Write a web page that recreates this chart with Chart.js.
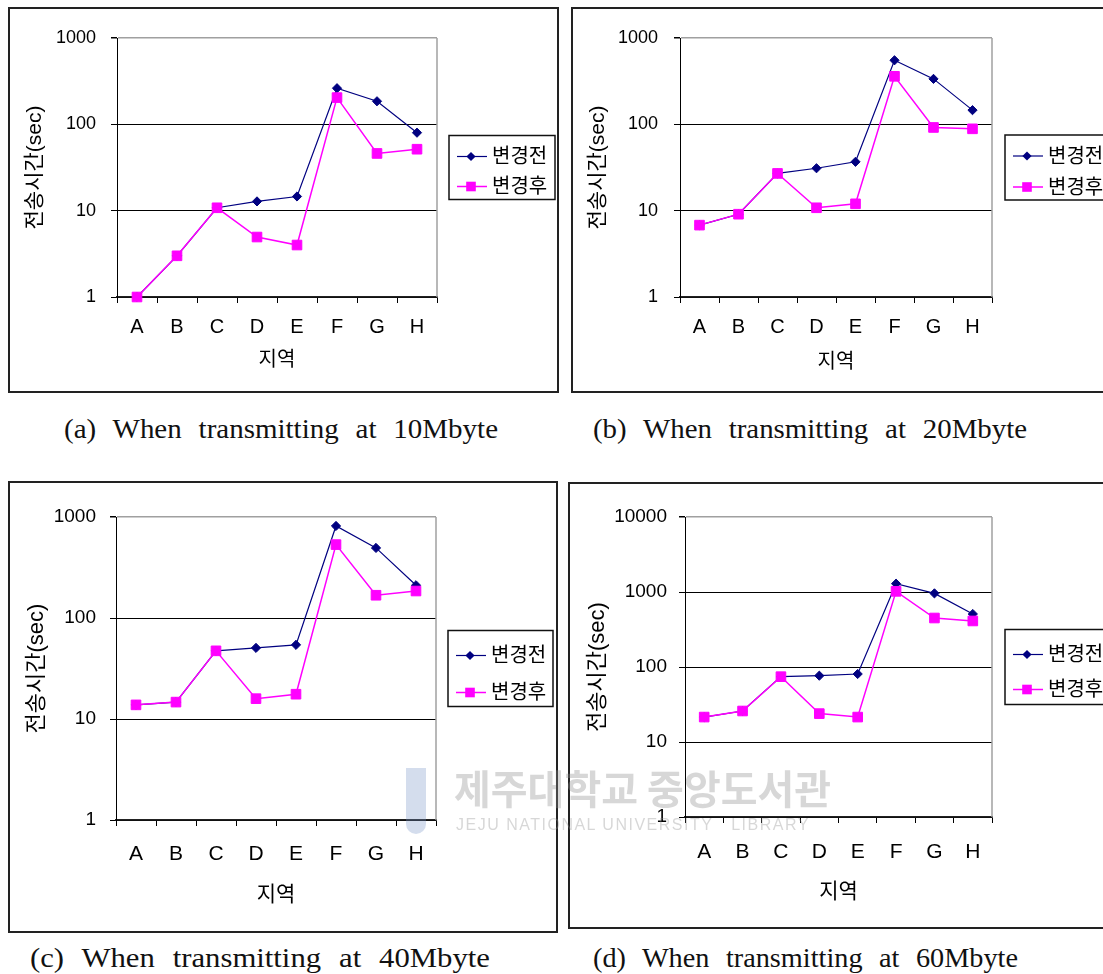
<!DOCTYPE html>
<html>
<head>
<meta charset="utf-8">
<title>지역별 전송시간</title>
<script src="https://cdn.jsdelivr.net/npm/chart.js"></script>
<style>
  html, body { margin: 0; padding: 0; background: #fff; width: 1103px; height: 974px; overflow: hidden; }
  .frame { position: absolute; border: 2px solid #222; box-sizing: border-box; background: #fff; }
  .frame canvas { position: absolute; left: 0; top: 0; }
  .caption { position: absolute; font-family: 'Liberation Serif', serif; font-size: 27px; letter-spacing: 0; word-spacing: 9px;
             white-space: nowrap; transform-origin: left center; color: #111; line-height: 1; }
  .wm { position: absolute; pointer-events: none; white-space: nowrap; color: rgba(140,140,140,0.35); }
</style>
</head>
<body>

<div class="frame" style="left:8px; top:7px; width:551px; height:386px;"><canvas id="chartA" width="547" height="382"></canvas></div>
<div class="frame" style="left:571px; top:7px; width:560px; height:386px;"><canvas id="chartB" width="556" height="382"></canvas></div>
<div class="frame" style="left:8px; top:481px; width:550px; height:452px;"><canvas id="chartC" width="546" height="448"></canvas></div>
<div class="frame" style="left:568px; top:482px; width:560px; height:447px;"><canvas id="chartD" width="556" height="443"></canvas></div>

<div class="caption" id="capA" style="left:64px; top:416px;"></div>
<div class="caption" id="capB" style="left:593px; top:416px;"></div>
<div class="caption" id="capC" style="left:30px; top:945px;"></div>
<div class="caption" id="capD" style="left:593px; top:945px;"></div>

<!-- 워터마크 -->
<div class="wm" style="left:406px; top:768px; width:20px; height:66px; background:rgba(120,150,200,0.32); border-radius:0 0 12px 12px;"></div>
<div class="wm" style="left:454px; top:758px; font-family:'Noto Sans CJK KR', sans-serif; font-weight:700; font-size:40px; letter-spacing:0px;">제주대학교 중앙도서관</div>
<div class="wm" style="left:456px; top:816px; font-family:'Liberation Sans', sans-serif; font-size:16px; letter-spacing:1.5px;">JEJU NATIONAL UNIVERSITY&nbsp;&nbsp;&nbsp;LIBRARY</div>

<script>
  // 데이터
  const regions = ['A', 'B', 'C', 'D', 'E', 'F', 'G', 'H'];
  const seriesNames = ['변경전', '변경후'];

  const before10 = [1, 3, 10.8, 12.8, 14.6, 262, 185, 80];
  const after10  = [1, 3, 10.8, 4.95, 4.0, 204, 46, 51.5];

  const before20 = [6.8, 9.1, 27, 31, 36.8, 552, 336, 146];
  const after20  = [6.8, 9.1, 27, 10.8, 12, 360, 92, 88.7];

  const before40 = [13.8, 14.7, 47.3, 50.6, 54.2, 815, 494, 211];
  const after40  = [13.8, 14.7, 47.3, 15.9, 17.6, 533, 168, 185];

  const before60 = [21.5, 25.9, 74.3, 76.6, 80.7, 1291, 959, 509];
  const after60  = [21.5, 25.9, 74.3, 23.9, 21.5, 1020, 450, 411];

  const ticks3 = [1, 10, 100, 1000];
  const ticks4 = [1, 10, 100, 1000, 10000];

  const xTitle = '지역';
  const yTitle = '전송시간(sec)';
  const captions = [
    '(a) When transmitting at 10Mbyte',
    '(b) When transmitting at 20Mbyte',
    '(c) When transmitting at 40Mbyte',
    '(d) When transmitting at 60Mbyte'
  ];

  const FONT = "'Liberation Sans', 'Noto Sans CJK KR', sans-serif";
  const BLUE = '#000080';
  const PINK = '#ff00ff';

  // 엑셀 스타일 범례 (선 + 마커 + 테두리 상자)
  const excelLegend = {
    id: 'excelLegend',
    afterDraw(chart, args, opts) {
      const { ctx, chartArea } = chart;
      const left = chartArea.right + opts.gap;
      const top = (chartArea.top + chartArea.bottom) / 2 - opts.height / 2;
      ctx.save();
      ctx.strokeStyle = '#111';
      ctx.lineWidth = 1.5;
      ctx.strokeRect(left, top, opts.width, opts.height);
      chart.data.datasets.forEach((ds, i) => {
        const y = top + opts.rows[i];
        ctx.strokeStyle = ds.borderColor;
        ctx.lineWidth = ds.borderWidth;
        ctx.beginPath();
        ctx.moveTo(left + 8, y);
        ctx.lineTo(left + 38, y);
        ctx.stroke();
        drawMarker(ctx, ds.pointStyle, left + 22, y, ds.pointRadius, ds.backgroundColor);
        ctx.fillStyle = '#000';
        ctx.font = opts.font + 'px ' + FONT;
        ctx.textBaseline = 'middle';
        ctx.fillText(ds.label, left + 43, y + 1);
      });
      ctx.restore();
    }
  };

  // 플롯 영역 오른쪽 회색 테두리
  const plotBorder = {
    id: 'plotBorder',
    beforeDatasetsDraw(chart) {
      const { ctx, chartArea } = chart;
      ctx.save();
      ctx.strokeStyle = '#a0a0a0';
      ctx.lineWidth = 1.5;
      ctx.beginPath();
      ctx.moveTo(chartArea.right, chartArea.top);
      ctx.lineTo(chartArea.right, chartArea.bottom);
      ctx.stroke();
      ctx.restore();
    }
  };

  function drawMarker(ctx, style, x, y, r, color) {
    ctx.fillStyle = color;
    ctx.beginPath();
    if (style === 'rectRot') {
      ctx.moveTo(x, y - r);
      ctx.lineTo(x + r, y);
      ctx.lineTo(x, y + r);
      ctx.lineTo(x - r, y);
    } else {
      const s = r * Math.SQRT1_2;
      ctx.rect(x - s, y - s, 2 * s, 2 * s);
    }
    ctx.closePath();
    ctx.fill();
  }

  function makeChart(id, before, after, yTicks, lay) {
    const yMax = yTicks[yTicks.length - 1];
    return new Chart(document.getElementById(id), {
      type: 'line',
      data: {
        labels: regions,
        datasets: [
          { label: seriesNames[0], data: before, borderColor: BLUE, backgroundColor: BLUE, borderWidth: 1.2,
            pointStyle: 'rectRot', pointRadius: 4.6, pointHoverRadius: 4.6, pointBorderWidth: 1, order: 1, clip: false },
          { label: seriesNames[1], data: after, borderColor: PINK, backgroundColor: PINK, borderWidth: 1.5,
            pointStyle: 'rect', pointRadius: 6.8, pointHoverRadius: 6.8, pointBorderWidth: 1, order: 0, clip: false }
        ]
      },
      options: {
        responsive: false,
        animation: false,
        devicePixelRatio: 1,
        layout: { padding: { left: 0, top: lay.top, right: lay.right, bottom: 0 } },
        plugins: {
          legend: { display: false },
          tooltip: { enabled: false },
          excelLegend: lay.legend
        },
        scales: {
          x: {
            offset: true,
            grid: { offset: true, drawOnChartArea: false, tickLength: 6, tickColor: '#000', color: '#000' },
            border: { color: '#222', width: 1.5 },
            ticks: { color: '#000', font: { family: FONT, size: lay.xFont }, padding: lay.xPad, autoSkip: false, maxRotation: 0 },
            title: { display: true, text: xTitle, color: '#000', font: { family: FONT, size: lay.xtFont },
                     padding: { top: 0, bottom: lay.xTitlePad } },
            afterFit: s => { s.height = lay.xh; }
          },
          y: {
            type: 'logarithmic',
            min: yTicks[0],
            max: yMax,
            afterBuildTicks: s => { s.ticks = yTicks.map(v => ({ value: v })); },
            ticks: { color: '#000', font: { family: FONT, size: lay.yFont }, padding: lay.yPad, callback: v => String(v) },
            grid: {
              color: c => (c.tick && c.tick.value === yMax) ? '#a0a0a0' : '#000',
              lineWidth: c => (c.tick && c.tick.value === yMax) ? 1.5 : 1,
              tickColor: '#000', tickLength: 6
            },
            border: { color: '#000', width: 1 },
            title: { display: true, text: yTitle, color: '#000', font: { family: FONT, size: lay.ytFont },
                     padding: { top: lay.yTitlePad, bottom: 0 } },
            afterFit: s => { s.width = lay.yw; }
          }
        }
      },
      plugins: [excelLegend, plotBorder]
    });
  }

  makeChart('chartA', before10, after10, ticks3, {
    top: 29, right: 120, yw: 107, xh: 94, yFont: 18, xFont: 20, xtFont: 20, ytFont: 21,
    xPad: 12, yPad: 15, xTitlePad: 19, yTitlePad: 13,
    legend: { gap: 12, width: 106, height: 64, rows: [21, 51], font: 20 }
  });
  makeChart('chartB', before20, after20, ticks3, {
    top: 29, right: 137, yw: 107, xh: 94, yFont: 18, xFont: 20, xtFont: 20, ytFont: 21,
    xPad: 12, yPad: 16, xTitlePad: 17, yTitlePad: 13,
    legend: { gap: 13, width: 106, height: 65, rows: [21, 52], font: 20 }
  });
  makeChart('chartC', before40, after40, ticks3, {
    top: 34, right: 120, yw: 106, xh: 111, yFont: 19, xFont: 21, xtFont: 21, ytFont: 22,
    xPad: 16, yPad: 14, xTitlePad: 23, yTitlePad: 14,
    legend: { gap: 12, width: 105, height: 76, rows: [25, 62], font: 20 }
  });
  makeChart('chartD', before60, after60, ticks4, {
    top: 33, right: 134, yw: 115, xh: 110, yFont: 19, xFont: 21, xtFont: 21, ytFont: 22,
    xPad: 17, yPad: 12, xTitlePad: 22, yTitlePad: 15,
    legend: { gap: 13, width: 106, height: 75, rows: [25, 60], font: 20 }
  });

  // 캡션: 기준 그림의 폭에 맞춰 가로 비율 조정
  const capWidths = [434, 434, 460, 425];
  ['capA', 'capB', 'capC', 'capD'].forEach((id, i) => {
    const el = document.getElementById(id);
    el.textContent = captions[i];
    const w = el.getBoundingClientRect().width;
    el.style.transform = 'scaleX(' + (capWidths[i] / w) + ')';
  });
</script>
</body>
</html>
